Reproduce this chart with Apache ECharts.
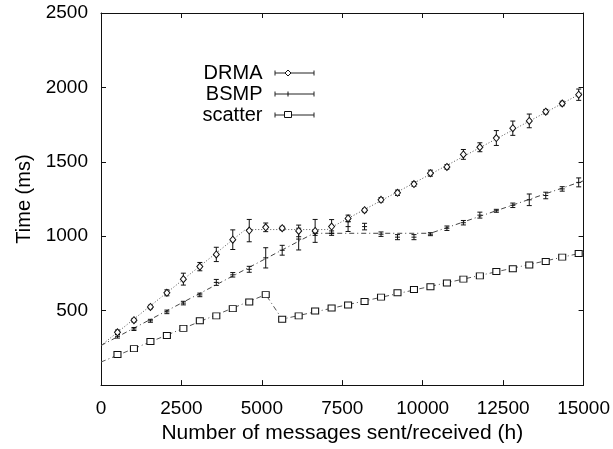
<!DOCTYPE html>
<html>
<head>
<meta charset="utf-8">
<script src="https://cdn.jsdelivr.net/npm/echarts@6/dist/echarts.min.js"></script>
<style>
  html, body { margin: 0; padding: 0; background: #fff; }
  #chart { width: 613px; height: 449px; }
</style>
</head>
<body>
<div id="chart"></div>
<script>
// x positions of the measurements (messages)
const xs = [512, 1024, 1536, 2048, 2560, 3072, 3584, 4096, 4608, 5120, 5632, 6144, 6656, 7168, 7680,
  8192, 8704, 9216, 9728, 10240, 10752, 11264, 11776, 12288, 12800, 13312, 13824, 14336, 14848]

const drma = [355, 436, 525, 620, 712, 796, 878, 977, 1038, 1060, 1054, 1036, 1036, 1065, 1120,
  1175, 1245, 1292, 1351, 1424, 1466, 1550, 1598, 1660, 1726, 1775, 1837, 1892, 1951]
const drmaErr = [15, 12, 12, 20, 40, 28, 48, 66, 75, 29, 13, 39, 77, 47, 22,
  12, 15, 18, 15, 20, 15, 33, 30, 50, 48, 46, 15, 15, 38]

const bsmp = [328, 377, 432, 492, 551, 606, 690, 741, 778, 855, 906, 981, 1021, 1021, 1065,
  1065, 1014, 994, 994, 1014, 1054, 1091, 1142, 1171, 1208, 1245, 1274, 1318, 1362]
const bsmpErr = [12, 10, 10, 12, 12, 12, 20, 15, 20, 68, 33, 73, 15, 15, 33,
  22, 15, 17, 17, 10, 15, 15, 20, 10, 15, 39, 22, 15, 30]

const scatter = [205, 245, 293, 333, 381, 432, 465, 514, 558, 608, 443, 465, 498, 518, 538,
  562, 591, 620, 642, 661, 686, 712, 734, 763, 782, 807, 831, 860, 884]
const scatterErr = [8, 8, 8, 8, 8, 8, 8, 8, 8, 8, 8, 8, 8, 8, 8,
  8, 8, 8, 8, 8, 8, 8, 8, 8, 8, 8, 8, 8, 8]

// piecewise fitted lines [x, y]
const drmaFit = [[0, 266], [4490, 1045], [7030, 1045], [15000, 1969]]
const bsmpFit = [[0, 266], [6614, 1020], [10240, 1020], [15000, 1373]]
const scatterFit = [[0, 155], [5120, 608], [5632, 443], [15000, 891]]

const xTicks = [0, 2500, 5000, 7500, 10000, 12500, 15000]
const yTicks = [0, 500, 1000, 1500, 2000, 2500]

const FONT = '"Liberation Sans", Arial, Helvetica, sans-serif'

function points(vals) {
  return vals.map((v, i) => [xs[i], v])
}
function errData(vals, errs) {
  return vals.map((v, i) => [xs[i], v - errs[i], v + errs[i]])
}

// error bar with small caps
function renderErr(params, api) {
  let x = api.value(0)
  let lo = api.coord([x, api.value(1)])
  let hi = api.coord([x, api.value(2)])
  let w = 2.5
  let st = { stroke: '#111', lineWidth: 1 }
  return {
    type: 'group',
    children: [
      { type: 'line', shape: { x1: lo[0], y1: lo[1], x2: hi[0], y2: hi[1] }, style: st },
      { type: 'line', shape: { x1: lo[0] - w, y1: lo[1], x2: lo[0] + w, y2: lo[1] }, style: st },
      { type: 'line', shape: { x1: hi[0] - w, y1: hi[1], x2: hi[0] + w, y2: hi[1] }, style: st }
    ]
  }
}

function axisCommon(show) {
  return {
    axisLine: { show: true, onZero: false, lineStyle: { color: '#111', width: 1 } },
    axisTick: { show: true, inside: true, length: 5, lineStyle: { color: '#111' } },
    splitLine: { show: false },
    axisLabel: {
      show: show, color: '#000', fontSize: 19, fontFamily: FONT,
      formatter: function(v) { return String(v) }
    }
  }
}

// legend drawn by hand: text, then a sample error-bar line with the marker
function legendItem(label, y, marker) {
  let items = [
    { type: 'text', x: 262.5, y: y, style: { text: label, fill: '#000', font: '20px ' + FONT, textAlign: 'right', textVerticalAlign: 'middle' } },
    { type: 'line', shape: { x1: 275, y1: y, x2: 314, y2: y }, style: { stroke: '#222', lineWidth: 1 } },
    { type: 'line', shape: { x1: 275, y1: y - 2.5, x2: 275, y2: y + 2.5 }, style: { stroke: '#222', lineWidth: 1 } },
    { type: 'line', shape: { x1: 314, y1: y - 2.5, x2: 314, y2: y + 2.5 }, style: { stroke: '#222', lineWidth: 1 } }
  ]
  if (marker === 'diamond') {
    items.push({ type: 'polygon', shape: { points: [[288, y - 3], [291, y], [288, y + 3], [285, y]] }, style: { fill: '#fff', stroke: '#111', lineWidth: 1 } })
  } else if (marker === 'rect') {
    items.push({ type: 'rect', shape: { x: 284.5, y: y - 3.5, width: 7, height: 6 }, style: { fill: '#fff', stroke: '#111', lineWidth: 1 } })
  } else {
    items.push({ type: 'line', shape: { x1: 288, y1: y - 2.5, x2: 288, y2: y + 2.5 }, style: { stroke: '#111', lineWidth: 1 } })
  }
  return items
}

let myChart = echarts.init(document.getElementById('chart'), null, { renderer: 'canvas' })

let option = {
  animation: false,
  backgroundColor: '#fff',
  grid: { left: 101, right: 29, top: 13, bottom: 58 },
  xAxis: [
    Object.assign(axisCommon(true), {
      type: 'value', min: xTicks[0], max: xTicks[xTicks.length - 1], interval: 2500,
      position: 'bottom',
      name: 'Number of messages sent/received (h)',
      nameLocation: 'middle', nameGap: 35,
      nameTextStyle: { color: '#000', fontSize: 21, fontFamily: FONT }
    }),
    Object.assign(axisCommon(false), {
      type: 'value', min: xTicks[0], max: xTicks[xTicks.length - 1], interval: 2500,
      position: 'top'
    })
  ],
  yAxis: [
    Object.assign(axisCommon(true), {
      type: 'value', min: yTicks[0], max: yTicks[yTicks.length - 1], interval: 500,
      position: 'left',
      name: 'Time (ms)',
      nameLocation: 'middle', nameGap: 66,
      nameTextStyle: { color: '#000', fontSize: 20, fontFamily: FONT }
    }),
    Object.assign(axisCommon(false), {
      type: 'value', min: yTicks[0], max: yTicks[yTicks.length - 1], interval: 500,
      position: 'right'
    })
  ],
  graphic: [].concat(
    legendItem('DRMA', 73, 'diamond'),
    legendItem('BSMP', 94, 'plus'),
    legendItem('scatter', 115, 'rect')
  ),
  series: [
    { type: 'line', data: drmaFit, symbol: 'none', lineStyle: { color: '#555', width: 1, type: [1, 2] }, z: 1 },
    { type: 'line', data: bsmpFit, symbol: 'none', lineStyle: { color: '#444', width: 1, type: [5, 3, 1, 3] }, z: 1 },
    { type: 'line', data: scatterFit, symbol: 'none', lineStyle: { color: '#555', width: 1, type: [5, 3, 1, 3] }, z: 1 },
    { type: 'custom', data: errData(drma, drmaErr), renderItem: renderErr, z: 2 },
    { type: 'custom', data: errData(bsmp, bsmpErr), renderItem: renderErr, z: 2 },
    { type: 'custom', data: errData(scatter, scatterErr), renderItem: renderErr, z: 2 },
    {
      type: 'scatter', name: 'DRMA', data: points(drma), symbol: 'diamond', symbolSize: [6, 7],
      itemStyle: { color: '#fff', borderColor: '#111', borderWidth: 1, opacity: 1 }, z: 3
    },
    {
      type: 'scatter', name: 'BSMP', data: points(bsmp), symbol: 'rect', symbolSize: [5, 1],
      itemStyle: { color: '#111', opacity: 1 }, z: 3
    },
    {
      type: 'scatter', name: 'scatter', data: points(scatter), symbol: 'rect', symbolSize: [7, 6],
      itemStyle: { color: '#fff', borderColor: '#111', borderWidth: 1, opacity: 1 }, z: 3
    }
  ]
}

// y axis has no "0" label
option.yAxis[0].axisLabel.showMinLabel = false
option.yAxis[0].axisLabel.margin = 13
option.xAxis[0].axisLabel.margin = 14

myChart.setOption(option)
window.addEventListener('resize', function() {
  myChart.resize()
})
</script>
</body>
</html>
